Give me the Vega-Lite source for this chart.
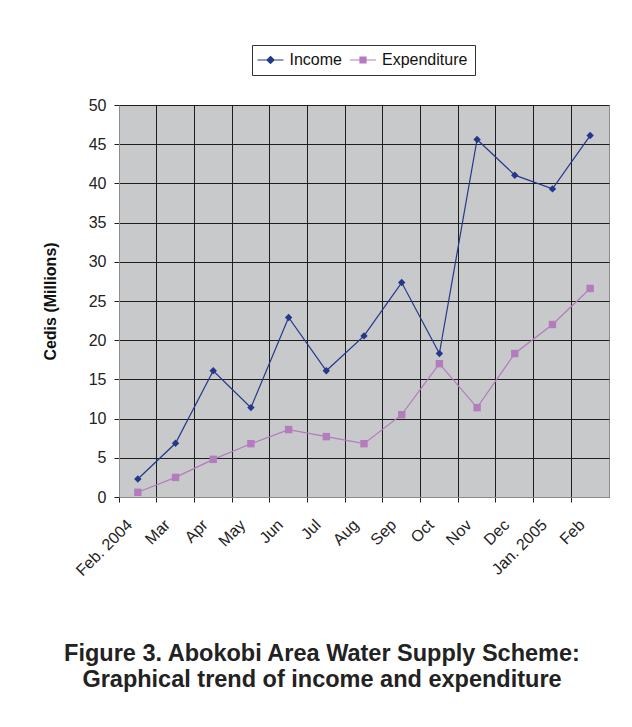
{
  "$schema": "https://vega.github.io/schema/vega-lite/v6.json",
  "width": 490,
  "height": 392,
  "autosize": {"type": "none"},
  "padding": {"left": 119, "top": 105, "right": 23, "bottom": 230},
  "background": "white",
  "config": {
    "view": {"fill": "#c8c9cb", "stroke": "#8c8c8c", "strokeWidth": 1},
    "font": "Liberation Sans"
  },
  "title": {
    "text": ["Figure 3. Abokobi Area Water Supply Scheme:", "Graphical trend of income and expenditure"],
    "orient": "bottom",
    "anchor": "middle",
    "font": "Liberation Sans",
    "fontSize": 23.5,
    "fontWeight": "bold",
    "color": "#222222",
    "offset": 63,
    "dx": -42,
    "lineHeight": 26
  },
  "data": {
    "values": [
      {"month": "Feb. 2004", "series": "Income", "value": 2.3},
      {"month": "Mar", "series": "Income", "value": 6.85},
      {"month": "Apr", "series": "Income", "value": 16.1},
      {"month": "May", "series": "Income", "value": 11.4},
      {"month": "Jun", "series": "Income", "value": 22.9},
      {"month": "Jul", "series": "Income", "value": 16.1},
      {"month": "Aug", "series": "Income", "value": 20.55},
      {"month": "Sep", "series": "Income", "value": 27.35},
      {"month": "Oct", "series": "Income", "value": 18.3},
      {"month": "Nov", "series": "Income", "value": 45.6},
      {"month": "Dec", "series": "Income", "value": 41.05},
      {"month": "Jan. 2005", "series": "Income", "value": 39.3},
      {"month": "Feb", "series": "Income", "value": 46.1},
      {"month": "Feb. 2004", "series": "Expenditure", "value": 0.6},
      {"month": "Mar", "series": "Expenditure", "value": 2.5},
      {"month": "Apr", "series": "Expenditure", "value": 4.8},
      {"month": "May", "series": "Expenditure", "value": 6.8},
      {"month": "Jun", "series": "Expenditure", "value": 8.6},
      {"month": "Jul", "series": "Expenditure", "value": 7.7},
      {"month": "Aug", "series": "Expenditure", "value": 6.8},
      {"month": "Sep", "series": "Expenditure", "value": 10.5},
      {"month": "Oct", "series": "Expenditure", "value": 17.0},
      {"month": "Nov", "series": "Expenditure", "value": 11.4},
      {"month": "Dec", "series": "Expenditure", "value": 18.3},
      {"month": "Jan. 2005", "series": "Expenditure", "value": 22.0},
      {"month": "Feb", "series": "Expenditure", "value": 26.6}
    ]
  },
  "encoding": {
    "x": {
      "field": "month",
      "type": "ordinal",
      "sort": null,
      "bandPosition": 0.5,
      "scale": {"type": "band", "paddingInner": 0, "paddingOuter": 0},
      "axis": {
        "title": null,
        "bandPosition": 0,
        "grid": true,
        "gridColor": "#1e1e1e",
        "gridWidth": 1,
        "domainColor": "#8c8c8c",
        "tickColor": "#1e1e1e",
        "tickSize": 5,
        "labelAngle": -45,
        "labelAlign": "right",
        "labelBaseline": "middle",
        "labelOffset": -8,
        "labelPadding": 20,
        "labelFont": "Liberation Sans",
        "labelFontSize": 16,
        "labelColor": "#222222"
      }
    },
    "y": {
      "field": "value",
      "type": "quantitative",
      "scale": {"domain": [0, 50], "nice": false},
      "axis": {
        "title": "Cedis (Millions)",
        "titleFont": "Liberation Sans",
        "titleFontSize": 16,
        "titleFontWeight": "bold",
        "titleColor": "#111111",
        "titlePadding": 30,
        "values": [0, 5, 10, 15, 20, 25, 30, 35, 40, 45, 50],
        "grid": true,
        "gridColor": "#1e1e1e",
        "gridWidth": 1,
        "domainColor": "#8c8c8c",
        "tickColor": "#1e1e1e",
        "tickSize": 5,
        "labelPadding": 8,
        "labelFont": "Liberation Sans",
        "labelFontSize": 16,
        "labelColor": "#222222"
      }
    }
  },
  "layer": [
    {
      "mark": {"type": "line", "strokeWidth": 1.2},
      "encoding": {
        "color": {
          "field": "series",
          "type": "nominal",
          "scale": {"domain": ["Income", "Expenditure"], "range": ["#23388c", "#b47bbd"]},
          "legend": {
            "title": null,
            "orient": "none",
            "legendX": 133,
            "legendY": -60,
            "direction": "horizontal",
            "strokeColor": "#333333",
            "fillColor": "white",
            "padding": 7,
            "symbolSize": 170,
            "symbolOffset": 3.5,
            "symbolType": "M-2,0H2M0,-0.54L0.54,0L0,0.54L-0.54,0Z",
            "symbolStrokeWidth": 1.2,
            "labelOffset": 11,
            "columnPadding": 5.5,
            "labelFont": "Liberation Sans",
            "labelFontSize": 16,
            "labelColor": "#111111",
            "encode": {
              "symbols": {
                "update": {
                  "shape": {"signal": "datum.value === 'Income' ? 'M-2,0H2M0,-0.54L0.54,0L0,0.54L-0.54,0Z' : 'M-2,0H2M-0.46,-0.46H0.46V0.46H-0.46Z'"},
                  "fill": {"signal": "datum.value === 'Income' ? '#23388c' : '#b47bbd'"},
                  "stroke": {"signal": "datum.value === 'Income' ? '#23388c' : '#b47bbd'"},
                  "strokeWidth": {"value": 1.2},
                  "opacity": {"value": 1}
                }
              }
            }
          }
        }
      }
    },
    {
      "mark": {"type": "point", "filled": true, "opacity": 1, "size": 55},
      "encoding": {
        "color": {"field": "series", "type": "nominal"},
        "shape": {
          "condition": {"test": "datum.series === 'Income'", "value": "diamond"},
          "value": "square"
        }
      }
    }
  ]
}
